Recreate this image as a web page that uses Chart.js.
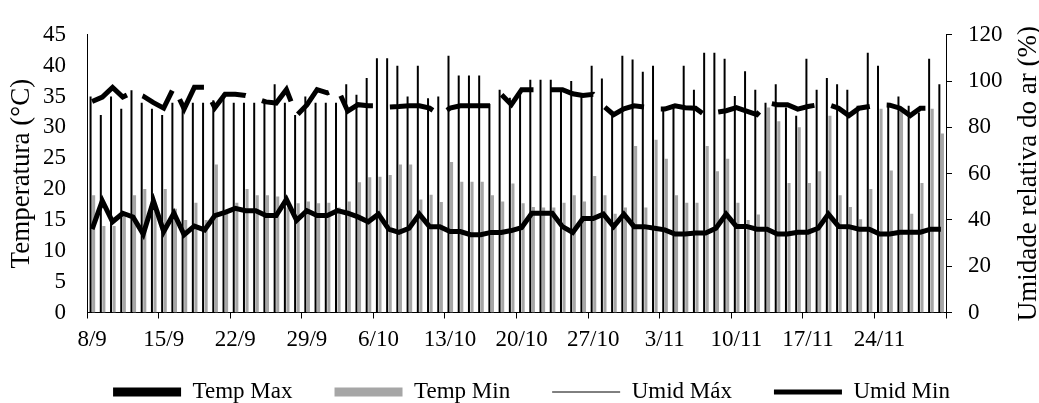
<!DOCTYPE html>
<html>
<head>
<meta charset="utf-8">
<script src="https://cdn.jsdelivr.net/npm/chart.js@4.4.1/dist/chart.umd.min.js"></script>
<style>
  html, body { margin: 0; padding: 0; background: #fff; }
  #wrap { width: 1039px; height: 403px; }
</style>
</head>
<body>
<div id="wrap"><canvas id="chart"></canvas></div>
<script>
// Daily categories (8/9 to 30/11)
const dates = [
  '8/9','9/9','10/9','11/9','12/9','13/9','14/9','15/9','16/9','17/9','18/9','19/9','20/9','21/9',
  '22/9','23/9','24/9','25/9','26/9','27/9','28/9','29/9','30/9','1/10','2/10','3/10','4/10','5/10',
  '6/10','7/10','8/10','9/10','10/10','11/10','12/10','13/10','14/10','15/10','16/10','17/10','18/10','19/10',
  '20/10','21/10','22/10','23/10','24/10','25/10','26/10','27/10','28/10','29/10','30/10','31/10','1/11','2/11',
  '3/11','4/11','5/11','6/11','7/11','8/11','9/11','10/11','11/11','12/11','13/11','14/11','15/11','16/11',
  '17/11','18/11','19/11','20/11','21/11','22/11','23/11','24/11','25/11','26/11','27/11','28/11','29/11','30/11'
];

// Labels shown on the x axis
const tickLabels = ['8/9','15/9','22/9','29/9','6/10','13/10','20/10','27/10','3/11','10/11','17/11','24/11'];

// Temperature (°C)
const tempMax = [
  35, 32, 35, 33, 36, 34, 33, 32, 34, 33.2, 34, 34, 34.4, 35.5,
  34, 34, 34, 34, 37, 34, 32, 35, 34, 34, 34, 37, 35.3, 38,
  41.2, 41.2, 40, 35, 40, 34.7, 35, 41.6, 38.4, 38.4, 38.4, 33.8, 36.1, 34.8,
  36, 37.7, 37.7, 37.7, 36, 37.5, 35.3, 40, 37.9, 32.2, 41.6, 41, 39, 40,
  33.3, 33.8, 40, 36.1, 42.1, 42.1, 41.1, 35.1, 39.1, 36.1, 34, 37, 33.2, 31.9,
  41.1, 36.1, 38, 37, 36.1, 33.5, 42.1, 40, 33.5, 35, 33.5, 32.4, 41.1, 37
];
const tempMin = [
  19, 14, 14, 16, 19, 20, 17, 20, 16.8, 15, 17.8, 15, 24, 16,
  17.8, 20, 19, 19, 18.8, 17, 17.7, 18, 17.7, 17.8, 17, 18, 21.1, 21.9,
  22, 22.3, 24, 24, 18.3, 19.1, 17.9, 24.4, 21.2, 21.2, 21.2, 19, 18, 20.9,
  17.7, 17.1, 17, 17, 17.8, 19, 18, 22.1, 19, 16, 17, 27, 17, 28,
  24.9, 19, 17.8, 17.8, 27, 22.9, 24.9, 17.8, 15, 15.9, 33.2, 31, 21, 30,
  21, 22.9, 31.9, 19, 17.1, 15.1, 20, 33, 23, 33, 16, 21, 33, 29
];

// Relative humidity (%)
const umidMax = [
  91.2, 93.1, 97.3, 93.1, 95.3, 93.5, 90.7, 88.3, 97.3, 88, 97.3, 97.3, 88.5, 94.3,
  94.3, 93.8, 92.5, 91, 90.5, 96.3, 85.1, 89.7, 96.3, 94.9, 96.7, 87, 89.8, 89.3,
  89.3, 88.8, 89, 89.3, 89.3, 88.3, 85.3, 88.3, 89.3, 89.3, 89.3, 89.3, 94.3, 89.8,
  96.3, 96.3, 96.3, 96.3, 96.3, 94.5, 93.8, 94.3, 89.3, 85.5, 88, 89.3, 88.8, 87.9,
  87.9, 89.3, 88.5, 88.3, 85.1, 86.5, 87.2, 88.5, 87, 85.5, 90.7, 89.8, 89.8, 87.9,
  89, 89.8, 89.8, 88.3, 85.1, 88.3, 89, 89.8, 89.6, 88.3, 85.1, 88.3, 88.3, 88
];
const umidMin = [
  36, 48.2, 39.2, 42.9, 41.3, 33.9, 48.2, 35, 42.9, 33.6, 37.3, 35.7, 41.9, 43.3,
  45, 44, 44, 41.9, 41.9, 48.9, 39.8, 44, 41.9, 41.9, 44, 42.9, 41.3, 39.2,
  42.5, 36, 34.6, 36.4, 42.5, 37.1, 37.1, 35, 35, 33.6, 33.6, 34.6, 34.6, 35.4,
  36.7, 42.9, 42.9, 42.9, 37.1, 34.6, 40.6, 40.6, 42.5, 37.1, 42.5, 37.1, 37.1, 36.4,
  35.7, 33.9, 33.9, 34.3, 34.3, 36.4, 42.5, 37.2, 37.2, 36, 36, 33.9, 33.9, 34.7,
  34.7, 36.4, 42.5, 37.2, 37.1, 36, 36, 33.9, 33.9, 34.7, 34.7, 34.7, 36, 36
];

const seriesNames = ['Temp Max', 'Temp Min', 'Umid Máx', 'Umid Min'];
const leftTitle = 'Temperatura (°C)';
const rightTitle = 'Umidade relativa do ar (%)';

const FONT = '"Liberation Serif", "Times New Roman", serif';

// Right axis title reads bottom-to-top, like the left one
const rightTitlePlugin = {
  id: 'rightTitle',
  afterDraw(chart) {
    const s = chart.scales.y1;
    const ctx = chart.ctx;
    ctx.save();
    ctx.translate(1029, (s.top + s.bottom) / 2);
    ctx.rotate(-Math.PI / 2);
    ctx.font = '27px ' + FONT;
    ctx.fillStyle = '#000';
    ctx.textAlign = 'center';
    ctx.textBaseline = 'middle';
    ctx.fillText(rightTitle, 0, 0);
    ctx.restore();
  }
};

new Chart(document.getElementById('chart'), {
  type: 'bar',
  data: {
    labels: dates,
    datasets: [
      {
        label: seriesNames[0], data: tempMax, yAxisID: 'y', order: 2,
        backgroundColor: '#000000', borderWidth: 0,
        categoryPercentage: 0.6, barPercentage: 0.65
      },
      {
        label: seriesNames[1], data: tempMin, yAxisID: 'y', order: 2,
        backgroundColor: '#a6a6a6', borderWidth: 0,
        categoryPercentage: 0.6, barPercentage: 1.0
      },
      {
        type: 'line', label: seriesNames[2], data: umidMax, yAxisID: 'y1', order: 0,
        borderColor: '#000000', backgroundColor: '#000000', borderWidth: 5,
        borderDash: [44, 17], pointRadius: 0, tension: 0, fill: false,
        legendLineWidth: 1
      },
      {
        type: 'line', label: seriesNames[3], data: umidMin, yAxisID: 'y1', order: 0,
        borderColor: '#000000', backgroundColor: '#000000', borderWidth: 5,
        pointRadius: 0, tension: 0, fill: false,
        legendLineWidth: 5
      }
    ]
  },
  options: {
    responsive: true,
    maintainAspectRatio: false,
    animation: false,
    layout: { padding: { top: 25, right: 0, bottom: -10.5, left: 24 } },
    plugins: {
      tooltip: { enabled: false },
      legend: {
        position: 'bottom',
        labels: {
          usePointStyle: true,
          pointStyleWidth: 68,
          boxHeight: 9,
          padding: 42,
          color: '#000',
          font: { family: FONT, size: 23 },
          generateLabels: (chart) => chart.data.datasets.map((ds, i) => ({
            text: ds.label,
            datasetIndex: i,
            fillStyle: ds.type === 'line' ? ds.borderColor : ds.backgroundColor,
            strokeStyle: ds.type === 'line' ? ds.borderColor : ds.backgroundColor,
            lineWidth: ds.type === 'line' ? ds.legendLineWidth : 0,
            pointStyle: ds.type === 'line' ? 'line' : 'rect',
            fontColor: '#000',
            hidden: false
          }))
        }
      }
    },
    scales: {
      x: {
        offset: true,
        afterFit: (s) => { s.height = 26; },
        grid: {
          offset: true,
          drawOnChartArea: false,
          drawTicks: true,
          tickLength: 6,
          color: (ctx) => (ctx.index === undefined || ctx.index % 7 === 0) ? '#000' : 'rgba(0,0,0,0)'
        },
        border: { display: true, color: '#000', width: 1 },
        ticks: {
          autoSkip: false,
          maxRotation: 0,
          minRotation: 0,
          // mirrored so the labels are not clipped to the short axis box
          mirror: true,
          padding: -41,
          color: '#000',
          font: { family: FONT, size: 23 },
          callback: (v, i) => tickLabels.includes(dates[i]) ? dates[i] : ''
        }
      },
      y: {
        position: 'left',
        min: 0, max: 45,
        afterFit: (s) => { s.width = 63; },
        grid: { display: false, drawTicks: false },
        border: { display: true, color: '#000', width: 1 },
        ticks: {
          stepSize: 5, padding: 21, color: '#000',
          font: { family: FONT, size: 23 }
        },
        title: {
          display: true, text: leftTitle, color: '#000',
          font: { family: FONT, size: 27 },
          padding: { top: -18, bottom: 0 }
        }
      },
      y1: {
        position: 'right',
        min: 0, max: 120,
        afterFit: (s) => { s.width = 93; },
        grid: {
          drawOnChartArea: false, drawTicks: true, tickLength: 6, color: '#000'
        },
        border: { display: true, color: '#000', width: 1 },
        ticks: {
          stepSize: 20, padding: 16, color: '#000',
          font: { family: FONT, size: 23 }
        }
      }
    }
  },
  plugins: [rightTitlePlugin]
});
</script>
</body>
</html>
